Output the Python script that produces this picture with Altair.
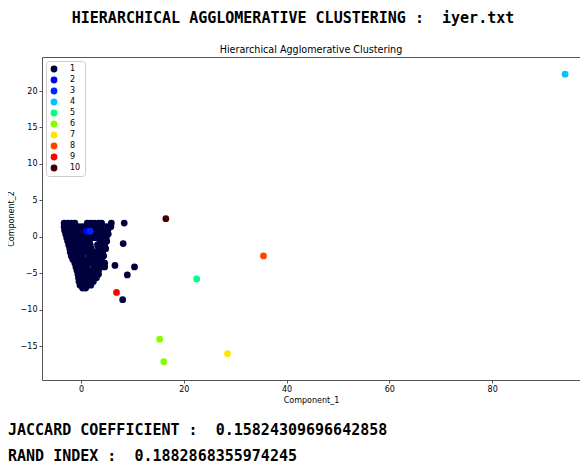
import altair as alt
import pandas as pd

# ---- data ----
cluster_labels = ["1", "2", "3", "4", "5", "6", "7", "8", "9", "10"]
cluster_colors = ["#00003f", "#0000ff", "#0026ff", "#00c4ff", "#00ff84",
                  "#84ff00", "#ffe400", "#ff4200", "#ff0000", "#420000"]

# cluster 1: dense blob (rows of y, list of x) + outliers
c1_rows = {
    1.9: [-3.3, -2.6, -1.9, -1.2, 1.2, 1.9, 2.6, 3.4, 4.0, 5.9, 8.4],
    1.4: [-3.3, -2.6, -1.9, -1.2, -0.5, 0.2, 0.9, 1.6, 2.3, 3.0, 3.7, 4.4, 5.1, 5.8],
    0.9: [-3.2, -2.5, -1.8, -1.1, -0.4, 0.3, 1.0, 1.7, 2.4, 3.1, 3.8, 4.5, 5.2],
    0.4: [-3.0, -2.3, -1.6, -0.9, -0.2, 0.5, 1.2, 1.9, 2.6, 3.3, 4.0, 4.7, 5.3],
    -0.1: [-2.8, -2.1, -1.4, -0.7, 0.0, 0.7, 1.4, 2.1, 2.8, 3.5, 4.2, 4.9],
    -0.6: [-2.6, -1.9, -1.2, -0.5, 0.2, 0.9, 1.6, 3.7, 4.4, 5.0],
    -0.9: [8.2],
    -1.1: [-2.4, -1.7, -1.0, -0.3, 0.4, 1.1, 1.8, 3.2, 3.9, 4.6],
    -1.6: [-2.2, -1.5, -0.8, -0.1, 0.6, 1.3, 2.0, 3.4, 4.1, 4.8],
    -2.1: [-2.1, -1.4, -0.7, 0.0, 0.7, 1.4, 2.1, 2.8, 3.5, 4.2],
    -2.6: [-1.9, -1.2, -0.5, 0.2, 1.6, 2.3, 3.0, 3.7, 4.4],
    -3.1: [-1.6, -0.9, -0.2, 0.5, 1.2, 1.9, 2.6, 3.3, 4.0],
    -3.6: [-1.2, -0.5, 0.2, 0.9, 1.6, 2.3, 3.0, 3.7, 4.6],
    -3.9: [6.6],
    -4.1: [-1.0, -0.3, 0.4, 1.1, 2.5, 3.2, 3.9, 4.6, 10.4],
    -4.6: [-0.8, -0.1, 0.6, 1.3, 2.0, 2.7, 3.4],
    -5.1: [-0.6, 0.1, 0.8, 1.5, 2.2, 2.9, 3.4],
    -5.2: [9.0],
    -5.6: [-0.5, 0.2, 0.9, 1.6, 2.3, 3.0],
    -6.1: [-0.4, 0.3, 1.0, 1.7, 2.4],
    -6.6: [-0.2, 0.5, 1.2, 1.9],
    -7.0: [0.3, 0.9],
    -8.6: [8.1],
}
c1_x = [x for yv, xs in c1_rows.items() for x in xs]
c1_y = [yv for yv, xs in c1_rows.items() for x in xs]

other_x = {"2": [1.07], "3": [1.77], "4": [94.2], "5": [22.5], "6": [15.3, 16.1],
           "7": [28.5], "8": [35.5], "9": [6.9], "10": [16.5]}
other_y = {"2": [0.8], "3": [0.8], "4": [22.3], "5": [-5.75], "6": [-14.0, -17.1],
           "7": [-16.0], "8": [-2.6], "9": [-7.6], "10": [2.5]}

x_ticks = [0, 20, 40, 60, 80]
y_ticks = [-15, -10, -5, 0, 5, 10, 15, 20]

header = "HIERARCHICAL AGGLOMERATIVE CLUSTERING : \u00a0iyer.txt"
subtitle = "Hierarchical Agglomerative Clustering"
footer1 = "JACCARD COEFFICIENT : \u00a00.15824309696642858"
footer2 = "RAND INDEX : \u00a00.1882868355974245"

# ---- build table ----
rows = [{"x": x, "y": y, "cluster": "1", "ord": 1} for x, y in zip(c1_x, c1_y)]
for i, lab in enumerate(cluster_labels[1:], start=2):
    for x, y in zip(other_x[lab], other_y[lab]):
        rows.append({"x": x, "y": y, "cluster": lab, "ord": i})
df = pd.DataFrame(rows)

W, H = 538, 323
xscale = alt.Scale(domain=[-7.6, 97.1], nice=False, zero=False)
yscale = alt.Scale(domain=[-19.6, 24.66], nice=False, zero=False)
FONT = "DejaVu Sans"
MONO = "DejaVu Sans Mono"

points = alt.Chart(df).mark_circle(size=46, opacity=1).encode(
    x=alt.X("x:Q", scale=xscale,
            axis=alt.Axis(values=x_ticks, title="Component_1", grid=False,
                          tickSize=3, labelPadding=2, titlePadding=3)),
    y=alt.Y("y:Q", scale=yscale,
            axis=alt.Axis(values=y_ticks, title="Component_2", grid=False,
                          tickSize=3, labelPadding=2, titlePadding=5)),
    color=alt.Color("cluster:N",
                    scale=alt.Scale(domain=cluster_labels, range=cluster_colors),
                    legend=alt.Legend(title=None, orient="top-left", offset=4)),
    order=alt.Order("ord:Q"),
)

top_axis = alt.Chart(df).mark_circle(opacity=0, size=1).encode(
    x=alt.X("x:Q", scale=xscale,
            axis=alt.Axis(orient="top", labels=False, ticks=False, title=None,
                          grid=False, domain=True)),
)

blank = alt.Data(values=[{}])
t_header = alt.Chart(blank).mark_text(
    text=header, font=MONO, fontSize=15, fontWeight="bold", color="black",
    align="center", baseline="middle"
).encode(x=alt.value(251), y=alt.value(-39))
t_sub = alt.Chart(blank).mark_text(
    text=subtitle, font=FONT, fontSize=9.6, color="black",
    align="center", baseline="middle"
).encode(x=alt.value(W / 2), y=alt.value(-7))
t_f1 = alt.Chart(blank).mark_text(
    text=footer1, font=MONO, fontSize=15, fontWeight="bold", color="black",
    align="left", baseline="middle"
).encode(x=alt.value(-34), y=alt.value(373))
t_f2 = alt.Chart(blank).mark_text(
    text=footer2, font=MONO, fontSize=15, fontWeight="bold", color="black",
    align="left", baseline="middle"
).encode(x=alt.value(-34), y=alt.value(399))

chart = alt.layer(points, top_axis, t_header, t_sub, t_f1, t_f2).resolve_axis(
    x="independent"
).properties(
    width=W, height=H,
    autosize=alt.AutoSizeParams(type="none"),
    padding={"left": 34, "top": 49, "right": 0, "bottom": 87},
    background="white",
).configure_view(stroke=None).configure_axis(
    labelFont=FONT, titleFont=FONT, labelFontSize=8, titleFontSize=8,
    labelColor="black", titleColor="black", titleFontWeight="normal",
    domainColor="#555555", tickColor="#555555", domainWidth=1,
).configure_legend(
    labelFont=FONT, labelFontSize=8, labelColor="black", symbolType="circle",
    symbolSize=46, symbolStrokeWidth=0, padding=4, rowPadding=3,
    labelOffset=12, strokeColor="#cccccc", fillColor="white", cornerRadius=3,
)

chart.save("out.html", embed_options={"renderer": "svg", "actions": False})
